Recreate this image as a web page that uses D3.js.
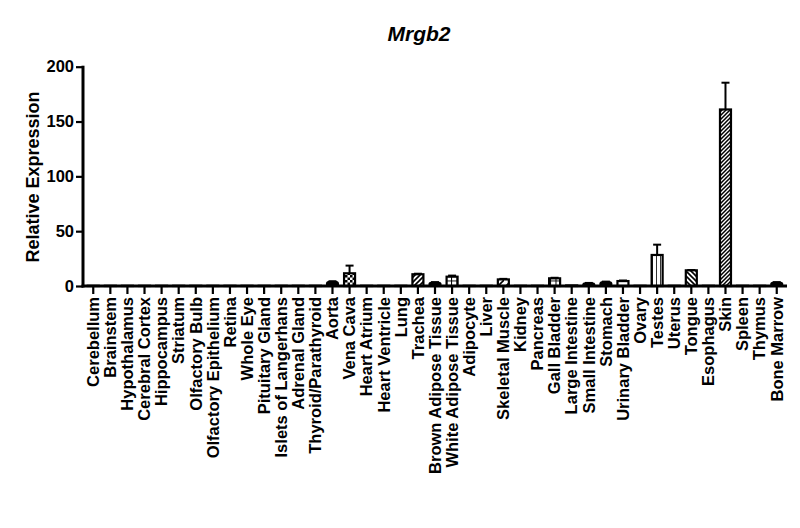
<!DOCTYPE html>
<html>
<head>
<meta charset="utf-8">
<script src="https://cdn.jsdelivr.net/npm/d3@7"></script>
<style>
  html, body { margin: 0; padding: 0; background: #fff; }
  svg { display: block; }
  text { font-family: "Liberation Sans", Arial, sans-serif; font-weight: bold; fill: #000; }
</style>
</head>
<body>
<svg id="chart" width="800" height="528"></svg>
<script>
const categories = ["Cerebellum","Brainstem","Hypothalamus","Cerebral Cortex","Hippocampus","Striatum","Olfactory Bulb","Olfactory Epithelium","Retina","Whole Eye","Pituitary Gland","Islets of Langerhans","Adrenal Gland","Thyroid/Parathyroid","Aorta","Vena Cava","Heart Atrium","Heart Ventricle","Lung","Trachea","Brown Adipose Tissue","White Adipose Tissue","Adipocyte","Liver","Skeletal Muscle","Kidney","Pancreas","Gall Bladder","Large Intestine","Small Intestine","Stomach","Urinary Bladder","Ovary","Testes","Uterus","Tongue","Esophagus","Skin","Spleen","Thymus","Bone Marrow"];
const values = [0.2,0.2,0.2,0.2,0.2,0.2,0.2,0.2,0.2,0.2,0.2,0.2,0.2,0.2,3.8,11.6,0.2,0.2,0.2,10.7,3,8.5,0.2,0.2,6,0.2,0.2,7,0.5,2.5,3.5,4.5,0.2,28.3,0.2,14.3,0.2,161,0.2,0.2,3];
const errors = [0,0,0,0,0,0,0,0,0,0,0,0,0,0,0.5,7,0,0,0,0.5,0.5,1,0,0,0.5,0,0,0.5,0,0.3,0.5,0.5,0,9.4,0,0.3,0,24.4,0,0,0.5];
const yTicks = [0, 50, 100, 150, 200];
const title = "Mrgb2";
const yTitle = "Relative Expression";

// fill style per category (style map, not data)
const fillFor = {
  "Vena Cava": "url(#checker)",
  "Trachea": "url(#diagUp)",
  "White Adipose Tissue": "url(#grid)",
  "Skeletal Muscle": "url(#diagWide)",
  "Gall Bladder": "url(#grid)",
  "Urinary Bladder": "url(#horiz)",
  "Testes": "url(#vert)",
  "Tongue": "url(#diagDown)",
  "Skin": "url(#diagDense)"
};

const svg = d3.select("#chart");
const defs = svg.append("defs");

function pat(id, w, h, draw) {
  const p = defs.append("pattern").attr("id", id).attr("patternUnits", "userSpaceOnUse")
    .attr("width", w).attr("height", h);
  p.append("rect").attr("width", w).attr("height", h).attr("fill", "#fff");
  draw(p);
}
pat("checker", 5, 5, p => {
  p.append("rect").attr("x",0).attr("y",0).attr("width",2.5).attr("height",2.5).attr("fill","#000");
  p.append("rect").attr("x",2.5).attr("y",2.5).attr("width",2.5).attr("height",2.5).attr("fill","#000");
});
pat("diagUp", 5, 5, p => {
  p.append("path").attr("d","M-1,6 L6,-1 M-1,1 L1,-1 M4,6 L6,4").attr("stroke","#000").attr("stroke-width",1.6);
});
pat("diagWide", 8, 8, p => {
  p.append("path").attr("d","M-1,9 L9,-1").attr("stroke","#000").attr("stroke-width",1.6);
});
pat("diagDown", 5, 5, p => {
  p.append("path").attr("d","M-1,-1 L6,6 M4,-1 L6,1 M-1,4 L1,6").attr("stroke","#000").attr("stroke-width",1.6);
});
pat("diagDense", 4, 4, p => {
  p.append("path").attr("d","M-1,5 L5,-1 M-1,1 L1,-1 M3,5 L5,3").attr("stroke","#000").attr("stroke-width",1.5);
});
pat("grid", 5.5, 5.5, p => {
  p.append("path").attr("d","M0,0 L5.5,0 M0,0 L0,5.5").attr("stroke","#000").attr("stroke-width",2);
});
pat("horiz", 6, 5, p => {
  p.append("path").attr("d","M0,0 L6,0").attr("stroke","#000").attr("stroke-width",2);
});
pat("vert", 4, 6, p => {
  p.append("path").attr("d","M0,0 L0,6").attr("stroke","#000").attr("stroke-width",1.6);
});

const x0 = 83, x1 = 787, yTop = 66.7, yBase = 286;
const x = d3.scaleBand().domain(categories).range([x0, x1]).paddingInner(0).paddingOuter(0.1);
const y = d3.scaleLinear().domain([0, 200]).range([yBase, yTop]);
const barW = 11;

// bars
const g = svg.append("g");
categories.forEach((c, i) => {
  const cx = x(c) + x.bandwidth() / 2;
  const v = values[i], e = errors[i];
  const top = y(v);
  if (e > 0) {
    g.append("line").attr("x1", cx).attr("x2", cx).attr("y1", top).attr("y2", y(v + e))
      .attr("stroke", "#000").attr("stroke-width", 2);
    g.append("line").attr("x1", cx - 4).attr("x2", cx + 4).attr("y1", y(v + e)).attr("y2", y(v + e))
      .attr("stroke", "#000").attr("stroke-width", 2);
  }
  const small = v < 4 && !fillFor[c];
  g.append("rect").attr("x", cx - barW / 2).attr("y", top).attr("width", barW)
    .attr("height", Math.max(0, yBase - top))
    .attr("fill", small ? "#000" : (fillFor[c] || "#fff"))
    .attr("stroke", "#000").attr("stroke-width", 2.2).attr("rx", small && v > 1 ? 3 : 0);
});

// y axis
const yAxis = svg.append("g").attr("transform", `translate(${x0},0)`)
  .call(d3.axisLeft(y).tickValues(yTicks).tickSize(7).tickPadding(2).tickSizeOuter(0));
yAxis.select(".domain").attr("stroke", "#000").attr("stroke-width", 3).attr("d", `M0,${yTop - 1}V${yBase + 1.5}`);
yAxis.selectAll(".tick line").attr("stroke", "#000").attr("stroke-width", 2.2);
yAxis.selectAll(".tick text").style("font-size", "16.5px").style("font-family", "'Liberation Sans', Arial, sans-serif").style("font-weight", "bold").attr("fill", "#000");

// x axis
const xAxis = svg.append("g").attr("transform", `translate(0,${yBase})`)
  .call(d3.axisBottom(x).tickSize(8).tickPadding(4).tickSizeOuter(0));
xAxis.select(".domain").attr("stroke", "#000").attr("stroke-width", 3).attr("d", `M${x0 - 1.5},0H${x1}`);
xAxis.selectAll(".tick line").attr("stroke", "#000").attr("stroke-width", 2.2);
xAxis.selectAll(".tick text")
  .style("font-size", "16.5px").style("font-family", "'Liberation Sans', Arial, sans-serif").style("font-weight", "bold").attr("fill", "#000")
  .attr("transform", "rotate(-90)")
  .attr("text-anchor", "end")
  .attr("x", -11).attr("y", 0).attr("dy", "0.35em");

// titles
svg.append("text").attr("x", 419).attr("y", 41).attr("text-anchor", "middle")
  .style("font-size", "21px").style("font-style", "italic").text(title);
svg.append("text").attr("transform", `translate(39,177) rotate(-90)`).attr("text-anchor", "middle")
  .style("font-size", "18px").text(yTitle);
</script>
</body>
</html>
